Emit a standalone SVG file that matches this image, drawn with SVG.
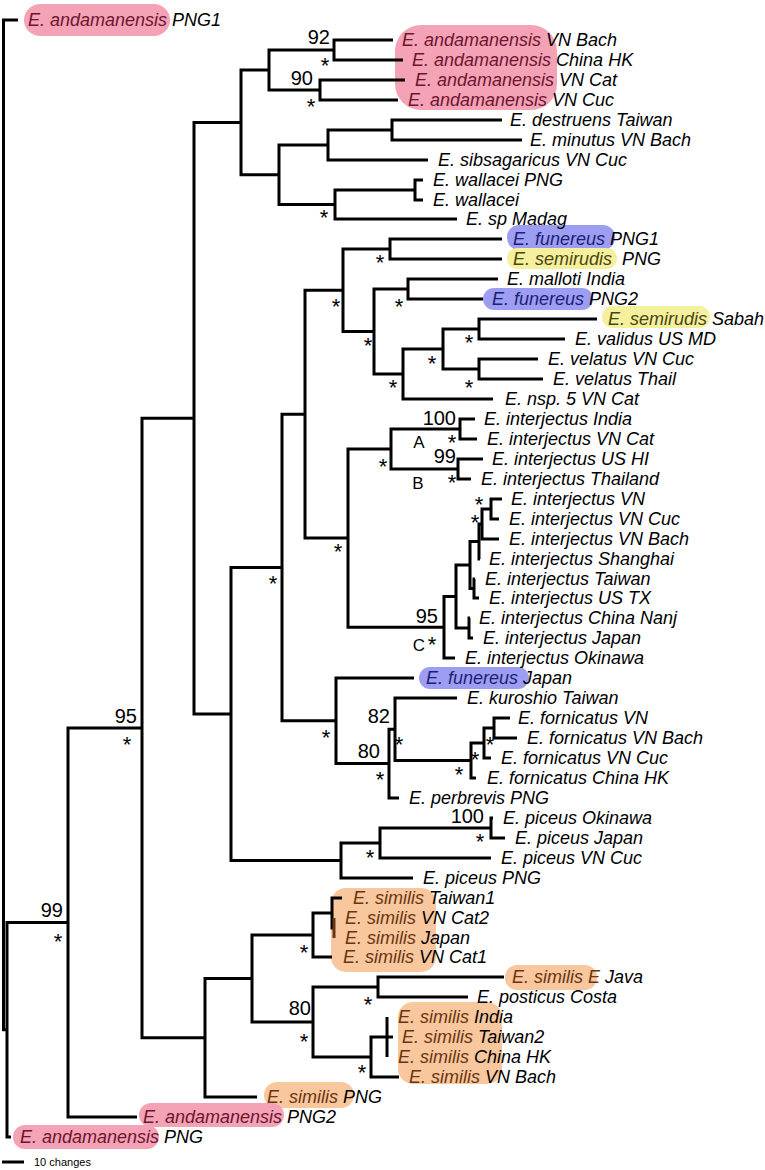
<svg xmlns="http://www.w3.org/2000/svg" width="765" height="1170" viewBox="0 0 765 1170">
<style>
.br{fill:none;stroke:#000;stroke-width:3;stroke-linejoin:miter;stroke-linecap:butt}
.lf{font-family:"Liberation Sans",Arial,Helvetica,sans-serif;font-style:italic;font-size:18px;fill:#000}
.bs{font-family:"Liberation Sans",Arial,Helvetica,sans-serif;font-size:20px;text-anchor:end;fill:#000}
.ast{font-family:"Liberation Sans",Arial,Helvetica,sans-serif;font-size:22px;text-anchor:middle;fill:#000}
.cl{font-family:"Liberation Sans",Arial,Helvetica,sans-serif;font-size:17px;text-anchor:middle;fill:#000}
.sc{font-family:"Liberation Sans",Arial,Helvetica,sans-serif;font-size:11px;fill:#000}
.pk{fill:#f4a2b6}.bl{fill:#9d9df1}.ye{fill:#f4f09e}.or{fill:#f8c79e}
.tpk{fill:#6e1530}.tbl{fill:#1e1e78}.tye{fill:#4a4610}.tor{fill:#6a3510}
</style>
<g id="highlights">
<rect class="pk" x="24" y="4" width="146" height="32" rx="16"/>
<rect class="pk" x="395" y="25" width="162" height="85" rx="26"/>
<rect class="bl" x="507" y="225" width="108" height="25" rx="12"/>
<rect class="ye" x="507" y="248" width="110" height="21" rx="10"/>
<rect class="bl" x="483" y="288" width="110" height="22" rx="11"/>
<rect class="ye" x="602" y="306" width="108" height="22" rx="11"/>
<rect class="bl" x="419" y="667" width="110" height="22" rx="11"/>
<rect class="or" x="331" y="888" width="105" height="84" rx="15"/>
<rect class="or" x="505" y="965" width="92" height="25" rx="12"/>
<rect class="or" x="398" y="1002" width="104" height="82" rx="15"/>
<rect class="or" x="264" y="1082" width="90" height="26" rx="13"/>
<rect class="pk" x="139" y="1103" width="145" height="24" rx="12"/>
<rect class="pk" x="13" y="1125" width="146" height="24" rx="12"/>
</g>
<g id="connectors">
<path class="br" d="M18 20H3.5V1029.75H7"/>
<path class="br" d="M68 922.5H7V1137H11"/>
<path class="br" d="M142 728H68V1117H137"/>
<path class="br" d="M194 418.2H142V1037.75H205"/>
<path class="br" d="M241 122.4H194V714H231"/>
<path class="br" d="M269 70H241V174.75H279"/>
<path class="br" d="M334 50H269V90H320"/>
<path class="br" d="M393 40H334V60H403"/>
<path class="br" d="M405 80H320V100H398"/>
<path class="br" d="M328 145H279V204.5H335"/>
<path class="br" d="M392 130H328V160H428"/>
<path class="br" d="M502 120H392V140H522"/>
<path class="br" d="M415 190H335V219H457"/>
<path class="br" d="M423 180H415V200H423"/>
<path class="br" d="M282 567.5H231V860.5H341"/>
<path class="br" d="M305 414.2H282V720.8H336"/>
<path class="br" d="M343 290.25H305V538.1H348"/>
<path class="br" d="M390 249H343V331.5H374"/>
<path class="br" d="M502 239H390V259H502"/>
<path class="br" d="M408 289H374V374H403"/>
<path class="br" d="M498 279H408V299H483"/>
<path class="br" d="M443 349H403V399H493"/>
<path class="br" d="M479 329H443V369H479"/>
<path class="br" d="M597 319H479V339H565"/>
<path class="br" d="M538 359H479V379H543"/>
<path class="br" d="M391 449H348V627.25H444"/>
<path class="br" d="M460 429H391V469H458"/>
<path class="br" d="M475 419H460V439H477"/>
<path class="br" d="M483 459H458V479H471"/>
<path class="br" d="M456 596.5H444V658H455"/>
<path class="br" d="M470 565H456V628H469"/>
<path class="br" d="M479 541.5H470V588.5H474"/>
<path class="br" d="M482 524H479V559H480"/>
<path class="br" d="M491 509H482V539H499"/>
<path class="br" d="M502 499H491V519H499"/>
<path class="br" d="M475 579H474V598H479"/>
<path class="br" d="M470 618H469V638H473"/>
<path class="br" d="M414 678H336V763.6H389"/>
<path class="br" d="M395 729.25H389V798H399"/>
<path class="br" d="M457 698H395V760.5H471"/>
<path class="br" d="M484 743H471V778H476"/>
<path class="br" d="M494 728H484V758H491"/>
<path class="br" d="M510 718H494V738H517"/>
<path class="br" d="M380 843H341V878H413"/>
<path class="br" d="M491 828H380V858H491"/>
<path class="br" d="M493 818H491V838H505"/>
<path class="br" d="M252 978.5H205V1097H257"/>
<path class="br" d="M313 935H252V1022H313"/>
<path class="br" d="M332 913H313V957H332"/>
<path class="br" d="M342 898H332V928H334"/>
<path class="br" d="M334 918V938" style="stroke:#6a3510"/>
<path class="br" d="M378 987H313V1057H371"/>
<path class="br" d="M504 977H378V997H468"/>
<path class="br" d="M387 1037H371V1077H399"/>
<path class="br" d="M387 1017V1057M387 1037H393"/>
<path class="br" d="M2 1162H24"/>
</g>
<g id="leaves">
<g id="leaf1"><text class="lf" x="28" y="26"><tspan class="tpk">E. andamanensis</tspan> PNG1</text></g>
<g id="leaf2"><text class="lf" x="402" y="46"><tspan class="tpk">E. andamanensis</tspan> VN Bach</text></g>
<g id="leaf3"><text class="lf" x="412" y="66"><tspan class="tpk">E. andamanensis</tspan> China HK</text></g>
<g id="leaf4"><text class="lf" x="415" y="86"><tspan class="tpk">E. andamanensis</tspan> VN Cat</text></g>
<g id="leaf5"><text class="lf" x="408" y="106"><tspan class="tpk">E. andamanensis</tspan> VN Cuc</text></g>
<g id="leaf6"><text class="lf" x="510" y="126">E. destruens Taiwan</text></g>
<g id="leaf7"><text class="lf" x="530" y="146">E. minutus VN Bach</text></g>
<g id="leaf8"><text class="lf" x="438" y="166">E. sibsagaricus VN Cuc</text></g>
<g id="leaf9"><text class="lf" x="433" y="186">E. wallacei PNG</text></g>
<g id="leaf10"><text class="lf" x="433" y="206">E. wallacei</text></g>
<g id="leaf11"><text class="lf" x="466" y="225">E. sp Madag</text></g>
<g id="leaf12"><text class="lf" x="513" y="245"><tspan class="tbl">E. funereus</tspan> PNG1</text></g>
<g id="leaf13"><text class="lf" x="513" y="265"><tspan class="tye">E. semirudis</tspan><tspan x="622">PNG</tspan></text></g>
<g id="leaf14"><text class="lf" x="507" y="285">E. malloti India</text></g>
<g id="leaf15"><text class="lf" x="492" y="305"><tspan class="tbl">E. funereus</tspan> PNG2</text></g>
<g id="leaf16"><text class="lf" x="608" y="325"><tspan class="tye">E. semirudis</tspan> Sabah</text></g>
<g id="leaf17"><text class="lf" x="575" y="345">E. validus US MD</text></g>
<g id="leaf18"><text class="lf" x="548" y="365">E. velatus VN Cuc</text></g>
<g id="leaf19"><text class="lf" x="553" y="385">E. velatus Thail</text></g>
<g id="leaf20"><text class="lf" x="505" y="405">E. nsp. 5 VN Cat</text></g>
<g id="leaf21"><text class="lf" x="484" y="425">E. interjectus India</text></g>
<g id="leaf22"><text class="lf" x="487" y="445">E. interjectus VN Cat</text></g>
<g id="leaf23"><text class="lf" x="492" y="465">E. interjectus US HI</text></g>
<g id="leaf24"><text class="lf" x="481" y="485">E. interjectus Thailand</text></g>
<g id="leaf25"><text class="lf" x="511" y="505">E. interjectus VN</text></g>
<g id="leaf26"><text class="lf" x="509" y="525">E. interjectus VN Cuc</text></g>
<g id="leaf27"><text class="lf" x="509" y="545">E. interjectus VN Bach</text></g>
<g id="leaf28"><text class="lf" x="489" y="565">E. interjectus Shanghai</text></g>
<g id="leaf29"><text class="lf" x="485" y="585">E. interjectus Taiwan</text></g>
<g id="leaf30"><text class="lf" x="489" y="604">E. interjectus US TX</text></g>
<g id="leaf31"><text class="lf" x="479" y="624">E. interjectus China Nanj</text></g>
<g id="leaf32"><text class="lf" x="483" y="644">E. interjectus Japan</text></g>
<g id="leaf33"><text class="lf" x="465" y="664">E. interjectus Okinawa</text></g>
<g id="leaf34"><text class="lf" x="426" y="684"><tspan class="tbl">E. funereus</tspan> Japan</text></g>
<g id="leaf35"><text class="lf" x="467" y="704">E. kuroshio Taiwan</text></g>
<g id="leaf36"><text class="lf" x="518" y="724">E. fornicatus VN</text></g>
<g id="leaf37"><text class="lf" x="527" y="744">E. fornicatus VN Bach</text></g>
<g id="leaf38"><text class="lf" x="501" y="764">E. fornicatus VN Cuc</text></g>
<g id="leaf39"><text class="lf" x="487" y="784">E. fornicatus China HK</text></g>
<g id="leaf40"><text class="lf" x="409" y="804">E. perbrevis PNG</text></g>
<g id="leaf41"><text class="lf" x="503" y="824">E. piceus Okinawa</text></g>
<g id="leaf42"><text class="lf" x="515" y="844">E. piceus Japan</text></g>
<g id="leaf43"><text class="lf" x="501" y="864">E. piceus VN Cuc</text></g>
<g id="leaf44"><text class="lf" x="423" y="884">E. piceus PNG</text></g>
<g id="leaf45"><text class="lf" x="353" y="904"><tspan class="tor">E. similis</tspan> Taiwan1</text></g>
<g id="leaf46"><text class="lf" x="345" y="924"><tspan class="tor">E. similis</tspan> VN Cat2</text></g>
<g id="leaf47"><text class="lf" x="345" y="944"><tspan class="tor">E. similis</tspan> Japan</text></g>
<g id="leaf48"><text class="lf" x="343" y="963"><tspan class="tor">E. similis</tspan> VN Cat1</text></g>
<g id="leaf49"><text class="lf" x="512" y="983"><tspan class="tor">E. similis E</tspan> Java</text></g>
<g id="leaf50"><text class="lf" x="477" y="1003">E. posticus Costa</text></g>
<g id="leaf51"><text class="lf" x="398" y="1023"><tspan class="tor">E. similis</tspan> India</text></g>
<g id="leaf52"><text class="lf" x="402" y="1043"><tspan class="tor">E. similis</tspan> Taiwan2</text></g>
<g id="leaf53"><text class="lf" x="398" y="1063"><tspan class="tor">E. similis</tspan> China HK</text></g>
<g id="leaf54"><text class="lf" x="409" y="1083"><tspan class="tor">E. similis</tspan> VN Bach</text></g>
<g id="leaf55"><text class="lf" x="267" y="1103"><tspan class="tor">E. similis</tspan> PNG</text></g>
<g id="leaf56"><text class="lf" x="143" y="1123"><tspan class="tpk">E. andamanensis</tspan> PNG2</text></g>
<g id="leaf57"><text class="lf" x="20" y="1143"><tspan class="tpk">E. andamanensis</tspan> PNG</text></g>
</g>
<g id="support">
<text class="bs" x="330" y="44">92</text>
<text class="bs" x="313" y="85">90</text>
<text class="bs" x="456" y="425">100</text>
<text class="bs" x="456" y="463">99</text>
<text class="bs" x="438" y="623">95</text>
<text class="bs" x="390" y="723">82</text>
<text class="bs" x="380" y="758">80</text>
<text class="bs" x="484" y="823">100</text>
<text class="bs" x="137" y="723">95</text>
<text class="bs" x="63" y="917">99</text>
<text class="bs" x="311" y="1015">80</text>
<text class="ast" x="325" y="73">*</text>
<text class="ast" x="311" y="114">*</text>
<text class="ast" x="324" y="225">*</text>
<text class="ast" x="380" y="270">*</text>
<text class="ast" x="336" y="314">*</text>
<text class="ast" x="399" y="314">*</text>
<text class="ast" x="368" y="353">*</text>
<text class="ast" x="469" y="350">*</text>
<text class="ast" x="432" y="371">*</text>
<text class="ast" x="469" y="395">*</text>
<text class="ast" x="393" y="395">*</text>
<text class="ast" x="452" y="450">*</text>
<text class="ast" x="383" y="474">*</text>
<text class="ast" x="452" y="490">*</text>
<text class="ast" x="479" y="512">*</text>
<text class="ast" x="475" y="530">*</text>
<text class="ast" x="432" y="652">*</text>
<text class="ast" x="338" y="559">*</text>
<text class="ast" x="273" y="591">*</text>
<text class="ast" x="326" y="745">*</text>
<text class="ast" x="399" y="752">*</text>
<text class="ast" x="380" y="787">*</text>
<text class="ast" x="490" y="752">*</text>
<text class="ast" x="475" y="767">*</text>
<text class="ast" x="459" y="782">*</text>
<text class="ast" x="480" y="849">*</text>
<text class="ast" x="370" y="865">*</text>
<text class="ast" x="127" y="752">*</text>
<text class="ast" x="58" y="949">*</text>
<text class="ast" x="304" y="960">*</text>
<text class="ast" x="304" y="1049">*</text>
<text class="ast" x="368" y="1012">*</text>
<text class="ast" x="362" y="1080">*</text>
<text class="cl" x="419" y="448">A</text>
<text class="cl" x="418" y="489">B</text>
<text class="cl" x="419" y="651">C</text>
</g>
<g id="scale">
<text class="sc" x="34" y="1166">10 changes</text>
</g>
</svg>
